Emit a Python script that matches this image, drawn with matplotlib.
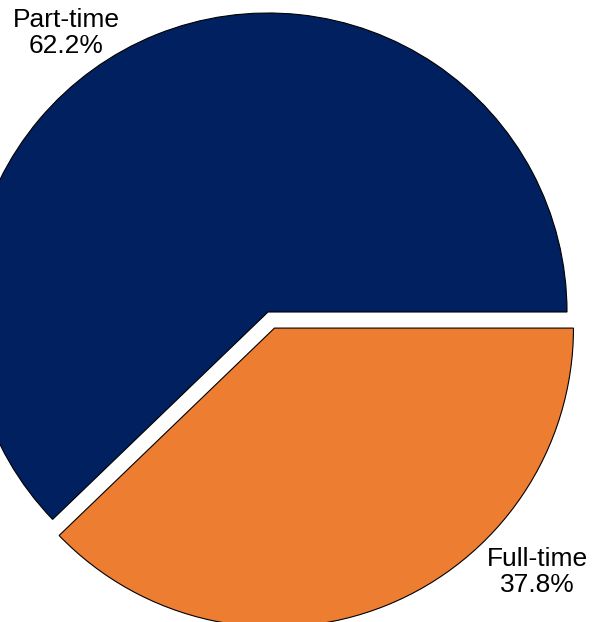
import matplotlib
matplotlib.use("Agg")
import matplotlib.pyplot as plt

categories = ["Full-time", "Part-time"]
shares = [37.8, 62.2]
colors = ["#ED7D31", "#002060"]
explode = [0.058, 0.0]

plt.rcParams['font.family'] = ['Liberation Sans', 'DejaVu Sans']

fig = plt.figure(figsize=(6.03, 6.22), dpi=100)
ax = fig.add_axes([0, 0, 1, 1])
wedges, _ = ax.pie(shares, colors=colors, explode=explode, startangle=0,
                   counterclock=False, radius=1.0,
                   wedgeprops=dict(edgecolor="black", linewidth=0.8))
ax.set_aspect('equal')
ax.set_xlim(-268/299, (603-268)/299)
ax.set_ylim(-310/299, (622-310)/299)
ax.axis('off')

label_pos = {"Part-time": (-0.676, 0.933), "Full-time": (0.900, -0.870)}
for cat, val in zip(categories, shares):
    x, y = label_pos[cat]
    ax.text(x, y, f"{cat}\n{val:.1f}%", ha='center', va='center',
            fontsize=19, linespacing=1.1, color='black')

fig.savefig("out.png", dpi=100)
